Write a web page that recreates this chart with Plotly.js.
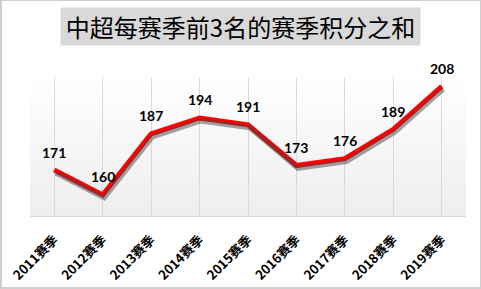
<!DOCTYPE html>
<html>
<head>
<meta charset="utf-8">
<script src="https://cdn.plot.ly/plotly-3.0.1.min.js"></script>
<style>
  html, body { margin: 0; padding: 0; background: #ffffff; }
  #wrap { position: relative; width: 481px; height: 289px; overflow: hidden; }
  #bg { position: absolute; left: 30px; top: 77px; width: 436px; height: 139px;
        background: linear-gradient(to bottom, #ffffff 0%, #f7f7f7 45%, #eeeeee 100%); }
  #chart { position: absolute; left: 0; top: 0; width: 481px; height: 289px; }
  #frame { position: absolute; left: 0; top: 0; width: 481px; height: 289px; box-sizing: border-box;
           border: 1px solid #d0d0d0; border-left-width: 2px; border-bottom-width: 2px; pointer-events: none; }
</style>
</head>
<body>
<div id="wrap">
  <div id="bg"></div>
  <div id="chart"></div>
  <div id="frame"></div>
</div>
<script>
const chartTitle = "中超每赛季前3名的赛季积分之和";
const seasons = ["2011赛季","2012赛季","2013赛季","2014赛季","2015赛季","2016赛季","2017赛季","2018赛季","2019赛季"];
const points = [171, 160, 187, 194, 191, 173, 176, 189, 208];

const yRange = [150.7, 212.1];
const numFont = "Lato, 'Open Sans', 'Noto Sans CJK SC', sans-serif";
const cjkFont = "'Noto Sans CJK SC', sans-serif";

const shadow = {
  x: seasons, y: points, type: "scatter", mode: "lines",
  xaxis: "x2", yaxis: "y2",
  line: { color: "rgba(70,70,70,0.5)", width: 5 },
  hoverinfo: "skip", showlegend: false
};
const main = {
  x: seasons, y: points, type: "scatter", mode: "lines",
  line: { color: "#ff0000", width: 5 },
  showlegend: false
};

const labelNotes = seasons.map((s, i) => ({
  x: s, y: points[i], xref: "x", yref: "y",
  text: String(points[i]), showarrow: false,
  xanchor: "center", yanchor: "middle", yshift: 18,
  font: { family: numFont, size: 14, color: "#000000", weight: 700 }
}));

const layout = {
  width: 481, height: 289,
  margin: { l: 30, r: 15, t: 77, b: 73, pad: 0 },
  paper_bgcolor: "rgba(0,0,0,0)",
  plot_bgcolor: "rgba(0,0,0,0)",
  xaxis: {
    type: "category", range: [-0.5, 8.5], fixedrange: true,
    showgrid: true, gridcolor: "#d9d9d9", gridwidth: 1,
    showline: true, linecolor: "#d9d9d9", linewidth: 1,
    ticks: "outside", ticklen: 10, tickcolor: "rgba(0,0,0,0)", tickangle: -45,
    tickfont: { family: cjkFont, size: 13, color: "#000000", weight: 700 },
    zeroline: false
  },
  yaxis: {
    range: yRange, visible: false, showgrid: false, zeroline: false, fixedrange: true
  },
  xaxis2: {
    type: "category", overlaying: "x", range: [-0.53, 8.47], visible: false, showgrid: false
  },
  yaxis2: {
    overlaying: "y", range: [yRange[0] + 1.3, yRange[1] + 1.3], visible: false, showgrid: false
  },
  annotations: [{
    text: chartTitle, xref: "paper", yref: "paper",
    x: 0.4828, y: 1.363, xanchor: "center", yanchor: "middle",
    showarrow: false, bgcolor: "#d9d9d9", width: 357, height: 35, borderpad: 1,
    font: { family: cjkFont, size: 24, color: "#000000" }
  }].concat(labelNotes)
};

Plotly.newPlot("chart", [shadow, main], layout, { displayModeBar: false, staticPlot: true });
</script>
</body>
</html>
